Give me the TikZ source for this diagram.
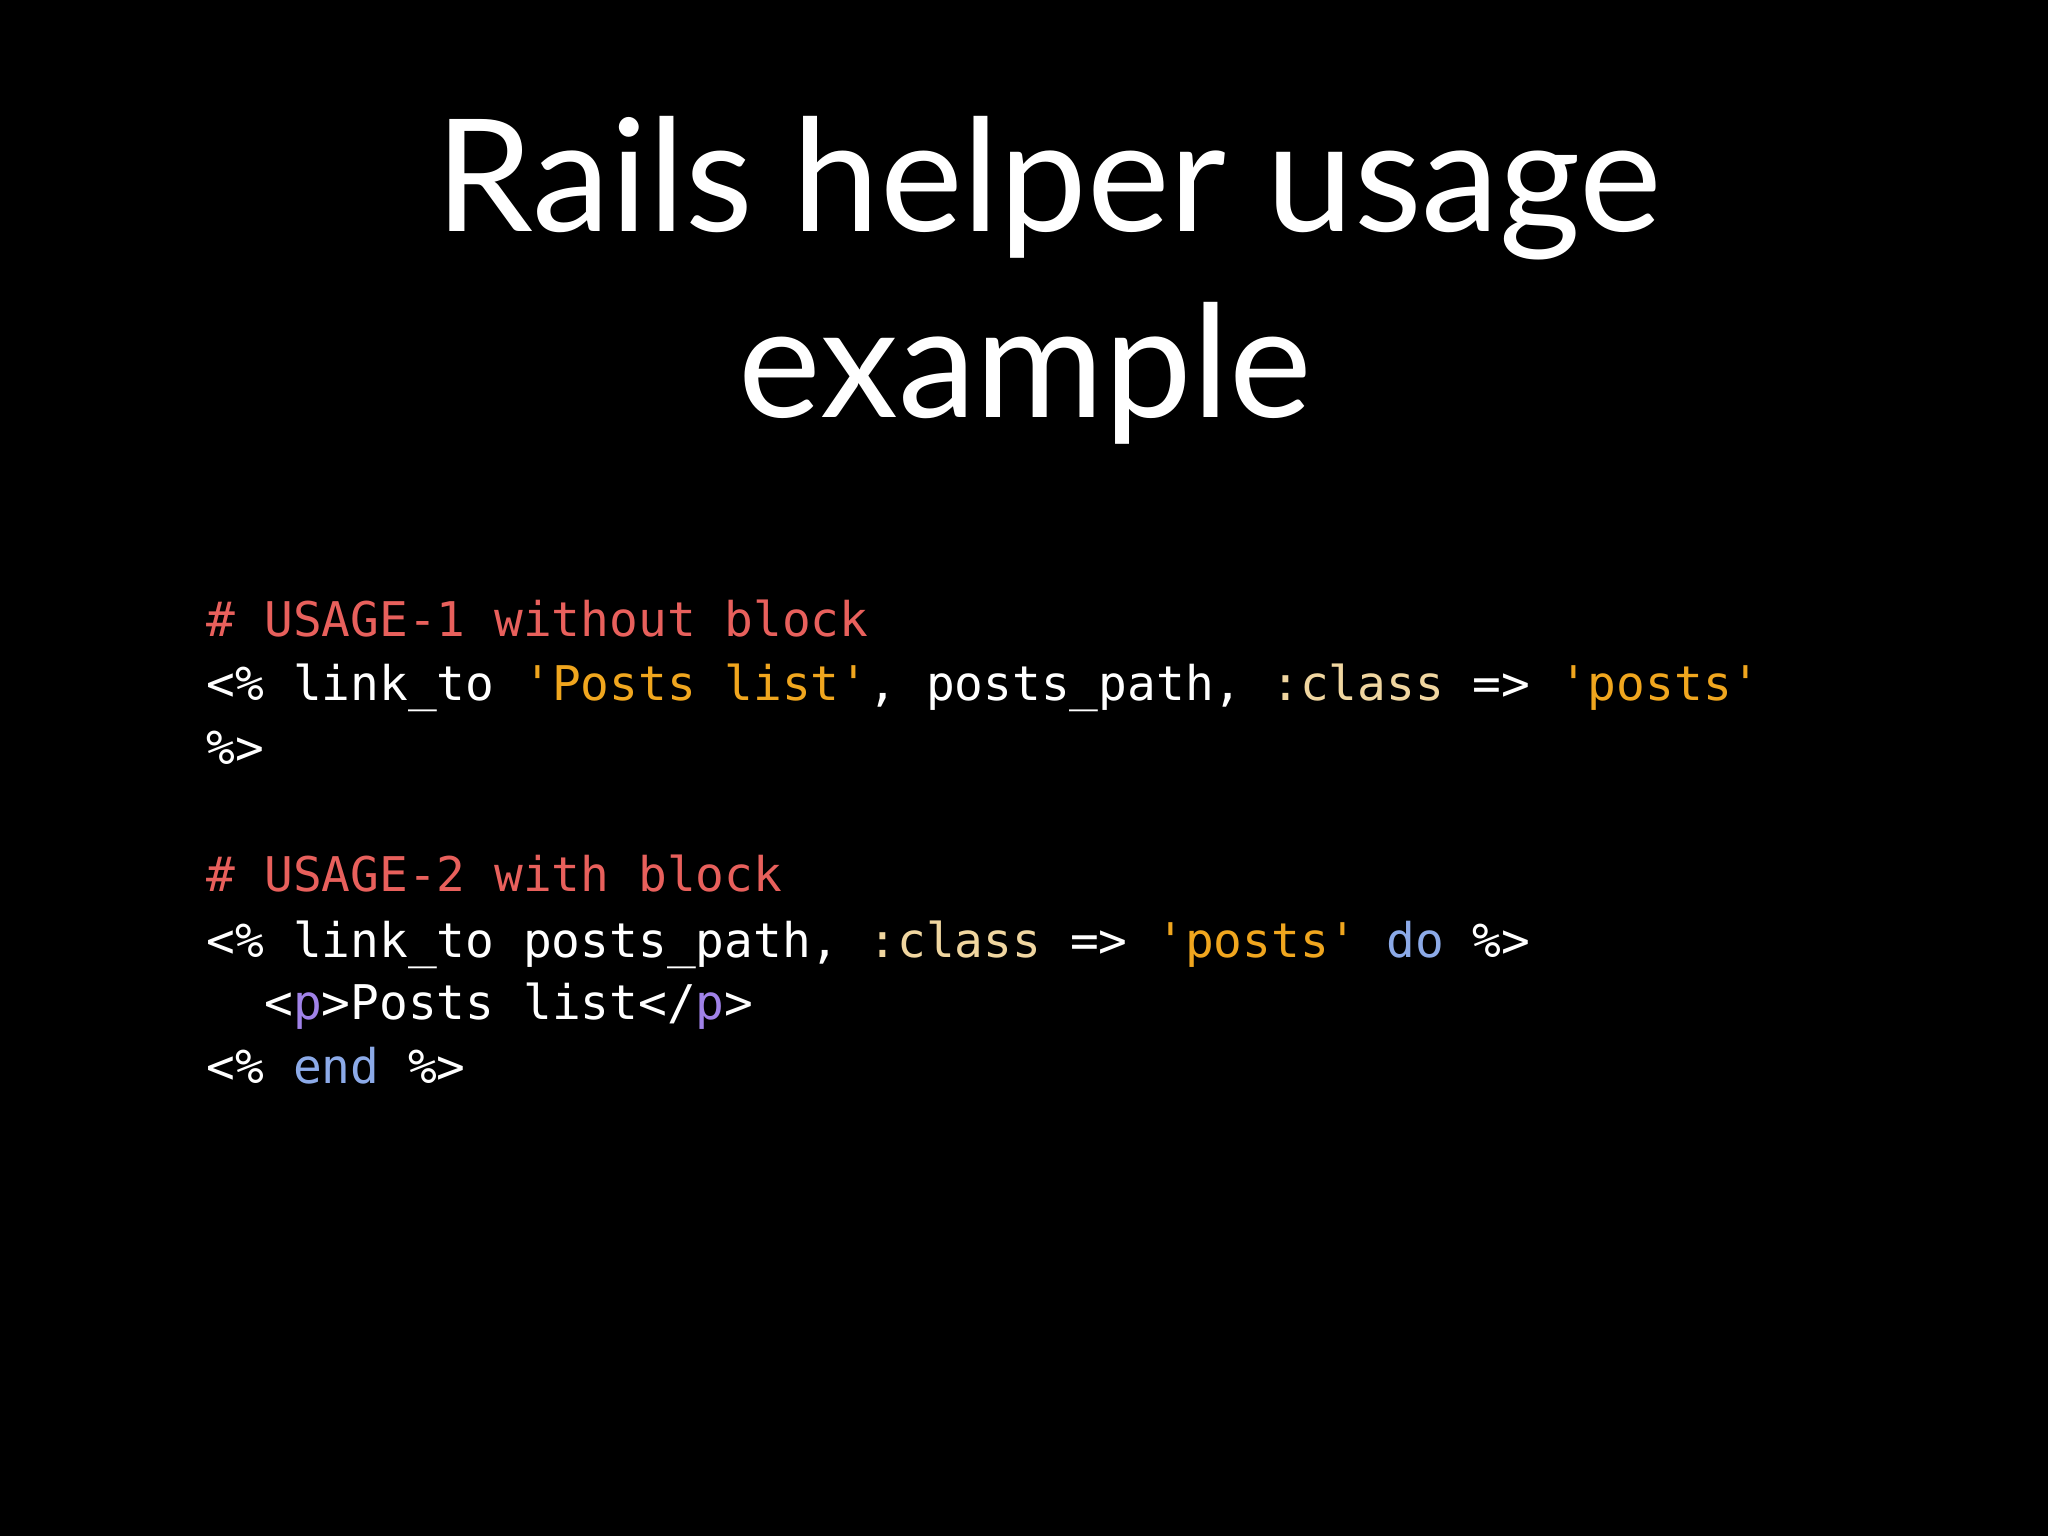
\documentclass[tikz,border=0pt]{standalone}
\usepackage{fontspec}
\setmainfont{Lato}
\setmonofont{DejaVu Sans Mono}
\definecolor{cmt}{RGB}{232,96,92}
\definecolor{str}{RGB}{240,166,30}
\definecolor{sym}{RGB}{240,214,160}
\definecolor{kw}{RGB}{140,170,232}
\definecolor{tg}{RGB}{160,130,232}
\begin{document}
\begin{tikzpicture}[x=1cm,y=1cm,
  ttl/.style={anchor=base,text=white,font=\fontsize{44.5}{46}\selectfont,inner sep=0},
  code/.style={anchor=base west,text=white,font=\fontsize{13.6}{15}\ttfamily,inner sep=0}]
\fill[black] (0,0) rectangle (20.48,-15.36);
\useasboundingbox (0,0) rectangle (20.48,-15.36);
\node[ttl] (t1) at (10.49,-2.32) {Rails helper usage};
\node[ttl] (t2) at (10.25,-4.18) {example};
\node[code] (c1) at (2.06,-6.36) {\textcolor{cmt}{\# USAGE-1 without block}};
\node[code] (c2) at (2.06,-7.01) {<\% link\_to \textcolor{str}{'Posts list'}, posts\_path, \textcolor{sym}{:class} => \textcolor{str}{'posts'}};
\node[code] (c3) at (2.06,-7.64) {\%>};
\node[code] (c4) at (2.06,-8.92) {\textcolor{cmt}{\# USAGE-2 with block}};
\node[code] (c5) at (2.06,-9.57) {<\% link\_to posts\_path, \textcolor{sym}{:class} => \textcolor{str}{'posts'} \textcolor{kw}{do} \%>};
\node[code] (c6) at (2.06,-10.20) {\phantom{xx}<\textcolor{tg}{p}>Posts list</\textcolor{tg}{p}>};
\node[code] (c7) at (2.06,-10.84) {<\% \textcolor{kw}{end} \%>};
\end{tikzpicture}
\end{document}
